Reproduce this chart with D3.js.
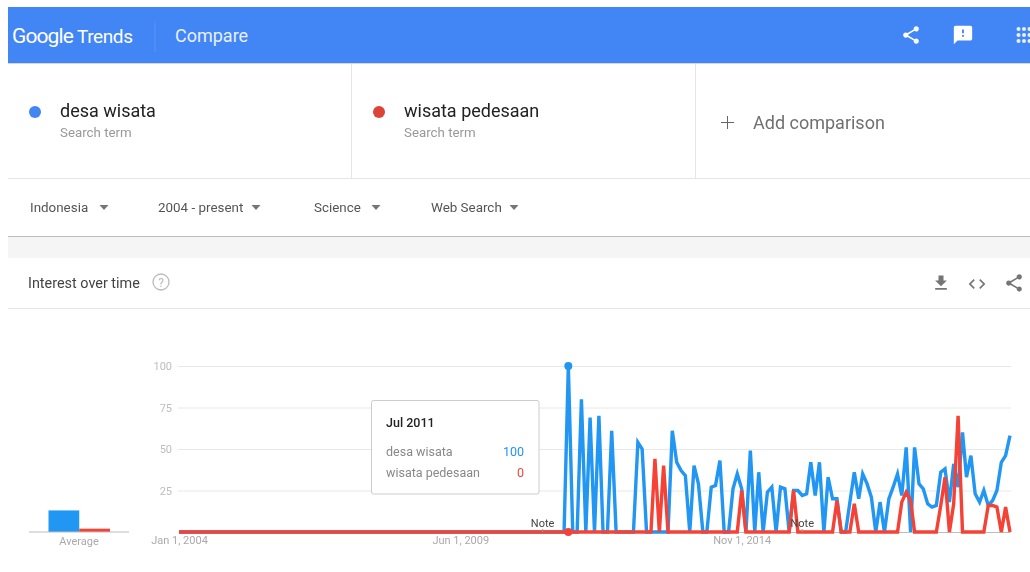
<!DOCTYPE html>
<html>
<head>
<meta charset="utf-8">
<style>
  html, body { margin: 0; padding: 0; background: #fff; overflow: hidden; }
  svg { display: block; font-family: Roboto, sans-serif; filter: blur(0.4px); }
</style>
<script src="https://cdn.jsdelivr.net/npm/d3@7"></script>
</head>
<body>
<script>
// monthly values from Jan 2004
var desaWisata = [
  0,0,0,0,0,0,0,0,0,0,
  0,0,0,0,0,0,0,0,0,0,
  0,0,0,0,0,0,0,0,0,0,
  0,0,0,0,0,0,0,0,0,0,
  0,0,0,0,0,0,0,0,0,0,
  0,0,0,0,0,0,0,0,0,0,
  0,0,0,0,0,0,0,0,0,0,
  0,0,0,0,0,0,0,0,0,0,
  0,0,0,0,0,0,0,0,0,0,
  100,0,0,80,0,69,0,70,0,0,
  61,0,0,0,0,0,54,50,0,0,
  0,0,0,0,61,42,37,34,0,40,
  29,0,0,27,28,43,0,0,26,35,
  26,0,49,0,36,0,24,27,0,27,
  26,0,25,25,22,23,42,22,42,0,
  33,20,20,0,0,18,36,20,35,29,
  21,0,18,0,20,27,35,22,51,0,
  51,29,26,17,15,16,36,38,18,41,
  27,60,33,46,23,18,25,16,19,25,
  42,46,58
];
var wisataPedesaan = [
  0,0,0,0,0,0,0,0,0,0,
  0,0,0,0,0,0,0,0,0,0,
  0,0,0,0,0,0,0,0,0,0,
  0,0,0,0,0,0,0,0,0,0,
  0,0,0,0,0,0,0,0,0,0,
  0,0,0,0,0,0,0,0,0,0,
  0,0,0,0,0,0,0,0,0,0,
  0,0,0,0,0,0,0,0,0,0,
  0,0,0,0,0,0,0,0,0,0,
  0,0,0,0,0,0,0,0,0,0,
  0,0,0,0,0,0,0,0,0,0,
  44,0,40,0,0,0,0,0,0,0,
  0,0,0,0,0,0,0,0,0,0,
  25,0,0,0,0,0,0,0,0,0,
  0,0,25,0,0,0,0,0,0,0,
  0,0,19,0,0,0,17,0,0,0,
  0,0,0,0,0,0,0,18,24,19,
  0,0,0,0,0,0,16,33,0,17,
  70,0,0,0,0,0,0,16,16,15,
  0,15,0
];
var averages = [13, 2];
var yTicks = [25, 50, 75, 100];
var xTickDates = ["2004-01-01", "2009-06-01", "2014-11-01"];
var xTickLabels = ["Jan 1, 2004", "Jun 1, 2009", "Nov 1, 2014"];
var noteDates = ["2011-01-01", "2016-01-01"];
var filters = ["Indonesia", "2004 - present", "Science", "Web Search"];
var filterX = [30, 158, 314, 431];
var arrowX = [104, 256, 376, 514];
var hoverIndex = 90;

var blue = "#2196f3", red = "#f44336";
var parse = d3.timeParse("%Y-%m-%d");
var startDate = parse("2004-01-01");

var icons = {
  share: "M18 16.08c-.76 0-1.44.3-1.96.77L8.91 12.7c.05-.23.09-.46.09-.7s-.04-.47-.09-.7l7.05-4.11c.54.5 1.25.81 2.04.81 1.66 0 3-1.34 3-3s-1.34-3-3-3-3 1.34-3 3c0 .24.04.47.09.7L8.04 9.81C7.5 9.31 6.79 9 6 9c-1.66 0-3 1.34-3 3s1.34 3 3 3c.79 0 1.5-.31 2.04-.81l7.12 4.16c-.05.21-.08.43-.08.65 0 1.61 1.31 2.92 2.92 2.92 1.61 0 2.92-1.31 2.92-2.92s-1.31-2.92-2.92-2.92z",
  feedback: "M20 2H4c-1.1 0-1.99.9-1.99 2L2 22l4-4h14c1.1 0 2-.9 2-2V4c0-1.1-.9-2-2-2zm-7 12h-2v-2h2v2zm0-4h-2V6h2v4z",
  download: "M19 9h-4V3H9v6H5l7 7 7-7zM5 18v2h14v-2H5z",
  code: "M9.4 16.6L4.8 12l4.6-4.6L8 6l-6 6 6 6 1.4-1.4zm5.2 0l4.6-4.6-4.6-4.6L16 6l6 6-6 6-1.4-1.4z"
};

var svg = d3.select("body").append("svg")
  .attr("width", 1030)
  .attr("height", 572);

function label(txt, x, y, size, color, weight, anchor) {
  return svg.append("text")
    .attr("x", x).attr("y", y)
    .attr("font-size", size)
    .attr("fill", color)
    .attr("font-weight", weight || 400)
    .attr("text-anchor", anchor || "start")
    .text(txt);
}

function rule(x1, y1, x2, y2, color) {
  svg.append("line")
    .attr("x1", x1).attr("y1", y1).attr("x2", x2).attr("y2", y2)
    .attr("stroke", color);
}

function icon(name, cx, cy, size, color) {
  var k = size / 24;
  svg.append("path")
    .attr("d", icons[name])
    .attr("fill", color)
    .attr("transform", "translate(" + (cx - size / 2) + "," + (cy - size / 2) + ") scale(" + k + ")");
}

// header bar
svg.append("rect").attr("x", 8).attr("y", 7).attr("width", 1022).attr("height", 56).attr("fill", "#4285f4");
rule(8, 63.5, 1030, 63.5, "#d5d5d5");
label("Google", 12, 43, 21, "#fff").attr("letter-spacing", -0.9);
label("Trends", 77, 43, 19, "#fff", 400).attr("letter-spacing", -0.4);
rule(155, 23, 155, 52, "#5b95f5");
label("Compare", 175, 42, 18, "#e8f0fe");
icon("share", 911, 35, 21, "#fff");
icon("feedback", 963, 35, 22, "#fff");
svg.append("g").selectAll("circle")
  .data(d3.cross([1018.5, 1024, 1029.5], [29, 35, 41]))
  .enter().append("circle")
  .attr("cx", function (d) { return d[0]; })
  .attr("cy", function (d) { return d[1]; })
  .attr("r", 2)
  .attr("fill", "#e8f0fe");

// search terms
rule(351.5, 64, 351.5, 178, "#e5e5e5");
rule(695.5, 64, 695.5, 178, "#e5e5e5");
rule(8, 178.5, 1030, 178.5, "#e5e5e5");
svg.append("circle").attr("cx", 35).attr("cy", 112).attr("r", 6).attr("fill", "#4285f4");
label("desa wisata", 60, 117, 18, "#222");
label("Search term", 60, 137, 13.3, "#999");
svg.append("circle").attr("cx", 379).attr("cy", 112).attr("r", 6).attr("fill", "#db4437");
label("wisata pedesaan", 404, 117, 18, "#222");
label("Search term", 404, 137, 13.3, "#999");
rule(721, 122.5, 734, 122.5, "#666");
rule(727.5, 116, 727.5, 129, "#666");
label("Add comparison", 753, 129, 18, "#707070");

// filter row
filters.forEach(function (f, i) {
  label(f, filterX[i], 212, 13.4, "#555");
  svg.append("path")
    .attr("d", d3.line()([[arrowX[i] - 4.5, 205], [arrowX[i] + 4.5, 205], [arrowX[i], 210]]) + "Z")
    .attr("fill", "#757575");
});
svg.append("rect").attr("x", 8).attr("y", 236).attr("width", 1022).attr("height", 22).attr("fill", "#f5f5f5");
rule(8, 236.5, 1030, 236.5, "#bdbdbd");

// card header
label("Interest over time", 28, 288, 14.4, "#444");
svg.append("circle").attr("cx", 161).attr("cy", 282).attr("r", 8)
  .attr("fill", "none").attr("stroke", "#bbb").attr("stroke-width", 1.3);
label("?", 161, 286.5, 12, "#bbb", 400, "middle");
rule(8, 308.5, 1030, 308.5, "#e8e8e8");
icon("download", 941, 283, 20, "#757575");
icon("code", 977, 284, 20, "#757575");
icon("share", 1014, 283, 21, "#757575");

// chart
var x = d3.scaleTime()
  .domain([startDate, parse("2020-01-01")])
  .range([179, 1010]);
var y = d3.scaleLinear()
  .domain([0, 100])
  .range([532, 366]);

var yAxis = svg.append("g")
  .attr("transform", "translate(178,0)")
  .call(d3.axisLeft(y).tickValues(yTicks).tickSize(-833).tickPadding(6));
yAxis.select(".domain").remove();
yAxis.selectAll(".tick line").attr("stroke", "#e8e8e8");
yAxis.selectAll(".tick text")
  .attr("fill", "#bdbdbd")
  .attr("font-size", 11)
  .attr("font-family", "Roboto, sans-serif");

var xAxis = svg.append("g")
  .attr("transform", "translate(0,532)")
  .call(d3.axisBottom(x)
    .tickValues(xTickDates.map(parse))
    .tickFormat(function (d, i) { return xTickLabels[i]; })
    .tickSize(0)
    .tickPadding(4));
xAxis.select(".domain").attr("stroke", "#bdbdbd");
xAxis.selectAll(".tick text")
  .attr("fill", "#aaa")
  .attr("font-size", 11)
  .attr("font-family", "Roboto, sans-serif");

function dateAt(i) { return d3.timeMonth.offset(startDate, i); }

var line = d3.line()
  .x(function (d, i) { return x(dateAt(i)); })
  .y(function (d) { return y(d); })
  .curve(d3.curveLinear);

[[desaWisata, blue], [wisataPedesaan, red]].forEach(function (s) {
  svg.append("path")
    .datum(s[0])
    .attr("d", line)
    .attr("fill", "none")
    .attr("stroke", s[1])
    .attr("stroke-width", 3.4)
    .attr("stroke-linejoin", "miter");
});

// hovered month
svg.append("circle")
  .attr("cx", x(dateAt(hoverIndex))).attr("cy", y(desaWisata[hoverIndex]))
  .attr("r", 4).attr("fill", blue);
svg.append("circle")
  .attr("cx", x(dateAt(hoverIndex))).attr("cy", y(wisataPedesaan[hoverIndex]))
  .attr("r", 4).attr("fill", red);

// notes
noteDates.forEach(function (d) {
  var nx = x(parse(d));
  label("Note", nx, 527, 11, "#444", 400, "middle");
  svg.append("line").attr("x1", nx).attr("x2", nx).attr("y1", 529).attr("y2", 532)
    .attr("stroke", "#999");
});

// average bars
var avgNames = ["desa wisata", "wisata pedesaan"];
var avgX = d3.scaleBand()
  .domain(avgNames)
  .range([48.5, 110]);
svg.selectAll(".avg")
  .data(averages)
  .enter().append("rect")
  .attr("class", "avg")
  .attr("x", function (d, i) { return avgX(avgNames[i]); })
  .attr("y", function (d) { return y(d); })
  .attr("width", avgX.bandwidth())
  .attr("height", function (d) { return y(0) - y(d); })
  .attr("fill", function (d, i) { return i ? red : blue; });
rule(29, 532, 129, 532, "#bdbdbd");
label("Average", 79, 545, 11, "#aaa", 400, "middle");

// tooltip
svg.append("rect")
  .attr("x", 371.5).attr("y", 400.5)
  .attr("width", 167.5).attr("height", 93.5)
  .attr("rx", 2)
  .attr("fill", "#fff")
  .attr("stroke", "#ccc");
label("Jul 2011", 386, 427, 12.5, "#222", 500);
label("desa wisata", 386, 455.5, 12.5, "#888");
label(desaWisata[hoverIndex], 524, 455.5, 12.5, blue, 400, "end");
label("wisata pedesaan", 386, 477, 12.5, "#888");
label(wisataPedesaan[hoverIndex], 524, 477, 12.5, red, 400, "end");
</script>
</body>
</html>
